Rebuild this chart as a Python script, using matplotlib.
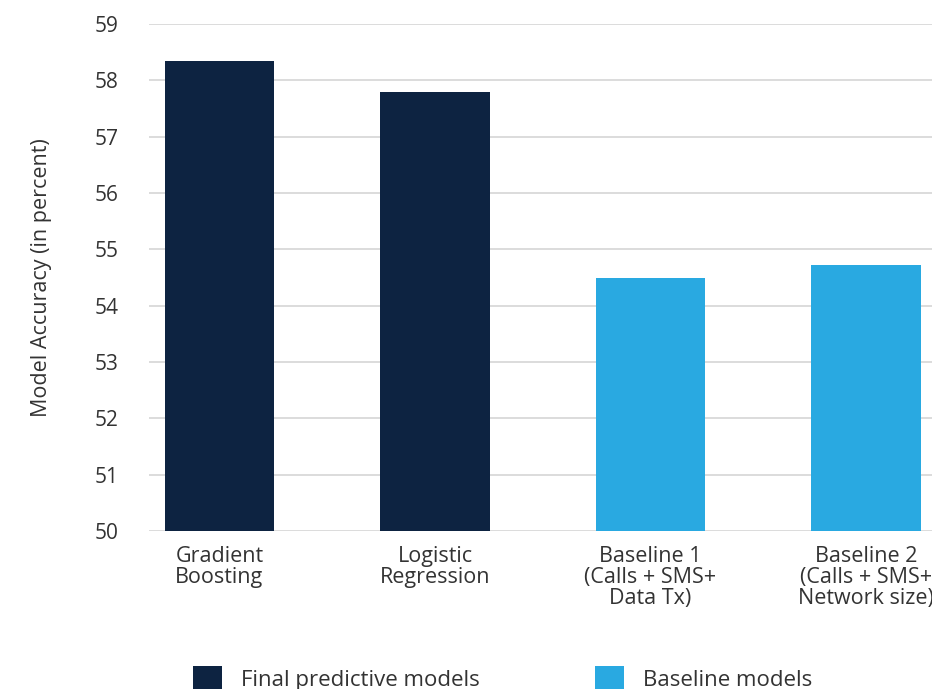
import matplotlib
matplotlib.use("Agg")
import matplotlib.pyplot as plt
from matplotlib.patches import Patch

categories = ["Gradient\nBoosting", "Logistic\nRegression",
              "Baseline 1\n(Calls + SMS+\nData Tx)", "Baseline 2\n(Calls + SMS+\nNetwork size)"]
accuracy = [58.35, 57.79, 54.5, 54.72]
groups = ["final", "final", "baseline", "baseline"]
group_labels = {"final": "Final predictive models", "baseline": "Baseline models"}
yticks = [50, 51, 52, 53, 54, 55, 56, 57, 58, 59]

colors = {"final": "#0d2341", "baseline": "#29a9e1"}
text_color = "#333333"

plt.rcParams['font.family'] = ['Open Sans', 'DejaVu Sans']

fig = plt.figure(figsize=(9.32, 6.89), dpi=100)
W, H = 932, 689
ax = fig.add_axes([149 / W, 1 - 531 / H, 1 - 149 / W, (531 - 24) / H])

x = list(range(len(categories)))
ax.bar(x, accuracy, width=0.51, color=[colors[g] for g in groups], zorder=3)

ax.set_ylim(50, 59)
ax.set_xlim(-0.327, 3.306)
ax.set_yticks(yticks)
ax.set_yticklabels([str(t) for t in yticks], fontsize=15, color=text_color)
ax.set_xticks(x)
ax.set_xticklabels(categories, fontsize=15.5, color=text_color, linespacing=0.98)
ax.tick_params(axis='y', length=0, pad=22)
ax.tick_params(axis='x', length=0, pad=11)
ax.grid(axis='y', color='#d9d9d9', linewidth=1.3, zorder=0)
ax.set_axisbelow(True)
for s in ax.spines.values():
    s.set_visible(False)
ax.set_ylabel("Model Accuracy (in percent)", fontsize=15.5, color=text_color)
ax.yaxis.set_label_coords(-(149 - 52) / (W - 149), 0.5)

handles = [Patch(facecolor=colors[g], edgecolor='none', label=group_labels[g])
           for g in ["final", "baseline"]]
fig.legend(handles=handles, loc='upper left', bbox_to_anchor=(193 / W, 1 - 666 / H),
           ncol=2, frameon=False, fontsize=16, labelcolor=text_color,
           handlelength=1.3, handleheight=1.3, handletextpad=0.85, columnspacing=5.2,
           borderpad=0, borderaxespad=0)

fig.savefig("out.png", dpi=100)
